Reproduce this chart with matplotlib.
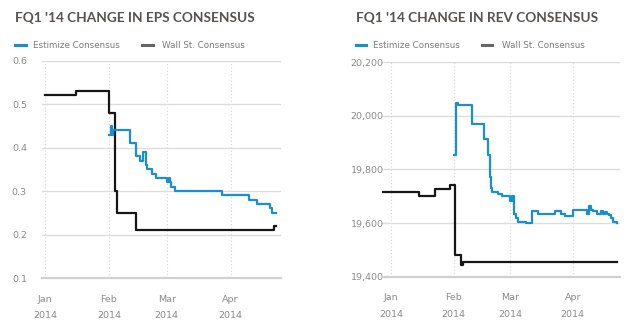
import pandas as pd
import matplotlib
matplotlib.use('Agg')
import matplotlib.pyplot as plt
from matplotlib.lines import Line2D
from matplotlib.ticker import FuncFormatter

# EPS consensus
eps_ws_dates = ['2014-01-01', '2014-01-16', '2014-02-01', '2014-02-04', '2014-02-05',
                '2014-02-14', '2014-04-22', '2014-04-23']
eps_ws_vals = [0.52, 0.53, 0.48, 0.30, 0.25, 0.21, 0.22, 0.22]

eps_est_dates = ['2014-02-01', '2014-02-02', '2014-02-02 12:00', '2014-02-03', '2014-02-11',
                 '2014-02-14', '2014-02-16', '2014-02-17 12:00', '2014-02-19', '2014-02-19 12:00',
                 '2014-02-22', '2014-02-24', '2014-03-01', '2014-03-02', '2014-03-02 12:00',
                 '2014-03-03', '2014-03-05', '2014-03-28', '2014-04-10', '2014-04-14',
                 '2014-04-20', '2014-04-21', '2014-04-23']
eps_est_vals = [0.43, 0.45, 0.43, 0.44, 0.41,
                0.38, 0.37, 0.39, 0.36, 0.35,
                0.34, 0.33, 0.32, 0.33, 0.32,
                0.31, 0.30, 0.29, 0.28, 0.27,
                0.26, 0.25, 0.25]

# revenue consensus
rev_ws_dates = ['2013-12-28', '2014-01-15', '2014-01-23', '2014-01-30', '2014-02-01 12:00',
                '2014-02-04 12:00', '2014-02-05 12:00', '2014-04-23']
rev_ws_vals = [19717, 19700, 19728, 19743, 19482, 19445, 19455, 19455]

rev_est_dates = ['2014-02-01', '2014-02-02', '2014-02-03', '2014-02-10', '2014-02-16',
                 '2014-02-18', '2014-02-19', '2014-02-19 12:00', '2014-02-20', '2014-02-23',
                 '2014-02-25', '2014-03-01', '2014-03-02', '2014-03-03', '2014-03-04',
                 '2014-03-05', '2014-03-09', '2014-03-12', '2014-03-15', '2014-03-17',
                 '2014-03-23', '2014-03-26', '2014-03-28', '2014-04-01', '2014-04-08',
                 '2014-04-09', '2014-04-10', '2014-04-11', '2014-04-13', '2014-04-15',
                 '2014-04-16', '2014-04-17', '2014-04-18', '2014-04-19', '2014-04-20',
                 '2014-04-21', '2014-04-23']
rev_est_vals = [19853, 20047, 20040, 19970, 19915,
                19855, 19770, 19732, 19715, 19710,
                19700, 19682, 19700, 19635, 19620,
                19605, 19600, 19645, 19634, 19632,
                19646, 19635, 19627, 19650, 19634,
                19662, 19648, 19645, 19635, 19645,
                19632, 19640, 19632, 19630, 19620,
                19605, 19600]

month_ticks = ['2014-01-01', '2014-02-01', '2014-03-01', '2014-04-01']
month_labels = ['Jan\n2014', 'Feb\n2014', 'Mar\n2014', 'Apr\n2014']

eps_ticks = [0.1, 0.2, 0.3, 0.4, 0.5, 0.6]
rev_ticks = [19400, 19600, 19800, 20000, 20200]

BLUE = '#1b8dd2'
BLACK = '#161616'
GRID = '#dcdcdc'
LABEL = '#8a8a8a'
TITLE = '#55524f'


def dates(d):
    return pd.to_datetime(d, format='mixed')


fig = plt.figure(figsize=(6.4, 3.25), dpi=100)
fig.patch.set_facecolor('white')


def style_axis(ax, xlim, ylim, yticks, fmt, pad):
    ax.set_xlim(dates(xlim[0]), dates(xlim[1]))
    ax.set_ylim(*ylim)
    ax.set_yticks(yticks)
    ax.yaxis.set_major_formatter(FuncFormatter(fmt))
    ax.set_xticks(dates(month_ticks))
    ax.set_xticklabels(month_labels, linespacing=2.05)
    for s in ['top', 'right', 'left']:
        ax.spines[s].set_visible(False)
    ax.spines['bottom'].set_color('#d0d0d0')
    ax.spines['bottom'].set_linewidth(1.6)
    ax.tick_params(length=0, colors=LABEL, labelsize=6.8)
    ax.tick_params(axis='x', pad=12)
    ax.tick_params(axis='y', pad=pad)
    ax.grid(axis='y', color=GRID, linewidth=1.0)
    ax.grid(axis='x', color='#d4d4d4', linewidth=0.8, linestyle=(0, (1, 2)))
    ax.set_axisbelow(True)


ax1 = fig.add_axes([0.0656, 0.1446, 0.3735, 0.669])
ax1.step(dates(eps_ws_dates), eps_ws_vals, where='post', color=BLACK, lw=1.6)
ax1.step(dates(eps_est_dates), eps_est_vals, where='post', color=BLUE, lw=1.6)
style_axis(ax1, ('2013-12-30 12:00', '2014-04-25 12:00'), (0.1, 0.6), eps_ticks,
           lambda v, p: f'{v:.1f}', 10.8)

ax2 = fig.add_axes([0.5973, 0.1486, 0.3714, 0.6604])
ax2.step(dates(rev_ws_dates), rev_ws_vals, where='post', color=BLACK, lw=1.6)
ax2.step(dates(rev_est_dates), rev_est_vals, where='post', color=BLUE, lw=1.6)
style_axis(ax2, ('2013-12-27 16:00', '2014-04-24 10:00'), (19400, 20200), rev_ticks,
           lambda v, p: f'{int(v):,}', -1)

# titles and legends
W, H = 640, 325
titles = [(15, "FQ1 '14 CHANGE IN EPS CONSENSUS"), (355.7, "FQ1 '14 CHANGE IN REV CONSENSUS")]
for x, t in titles:
    fig.text(x / W, 1 - 18 / H, t, fontsize=9.8, fontweight='bold', color=TITLE,
             va='center', ha='left', family='Lato')

legend_items = [
    (15, 26, 33.3, BLUE, 'Estimize Consensus'),
    (141.7, 152.7, 161.7, '#666666', 'Wall St. Consensus'),
    (355.7, 365.7, 373.3, BLUE, 'Estimize Consensus'),
    (482.3, 492.3, 501.7, '#666666', 'Wall St. Consensus'),
]
for x0, x1, xt, c, lab in legend_items:
    fig.add_artist(Line2D([x0 / W, x1 / W], [1 - 45 / H, 1 - 45 / H], color=c, lw=2.2,
                          transform=fig.transFigure))
    fig.text(xt / W, 1 - 45 / H, lab, fontsize=6.3, color='#7a7a7a', va='center', ha='left')

plt.savefig('out.png', dpi=100)
